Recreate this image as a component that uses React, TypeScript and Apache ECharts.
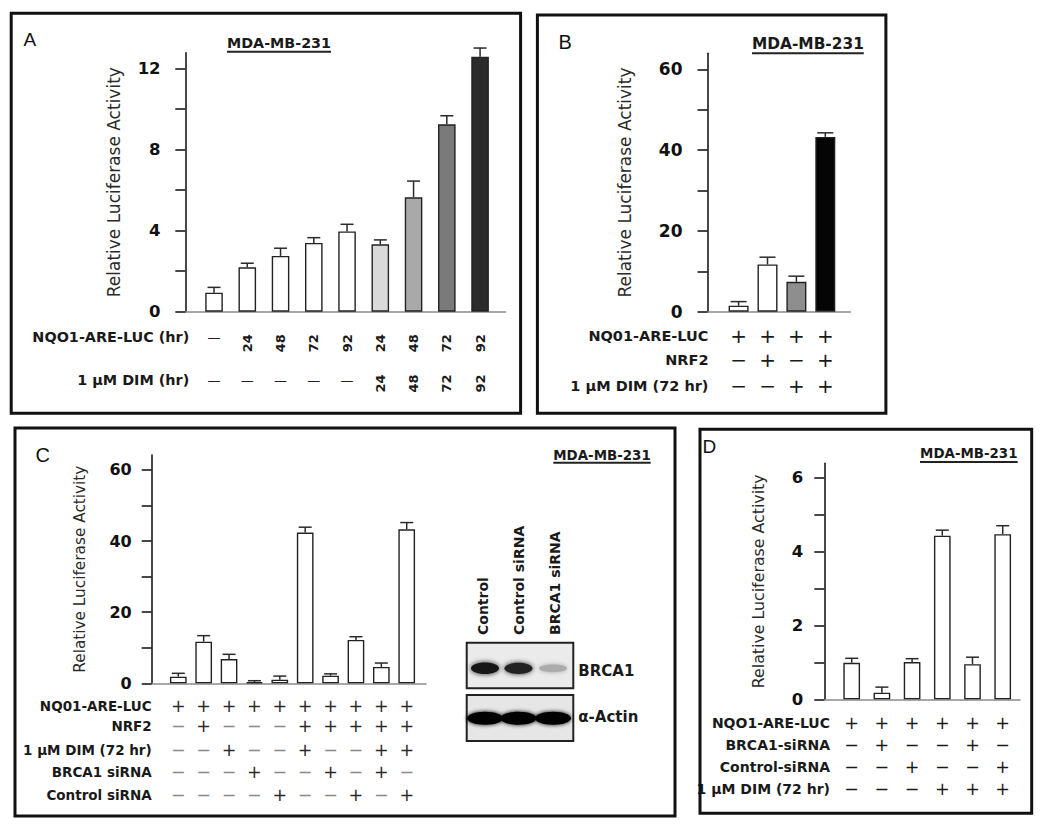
import React, { useEffect, useRef } from "react";
import * as echarts from "echarts";

// ---------------- Panel A data ----------------
const aCategories = ["LUC", "LUC 24", "LUC 48", "LUC 72", "LUC 92", "LUC+DIM 24", "LUC+DIM 48", "LUC+DIM 72", "LUC+DIM 92"];
const aValues = [0.94, 2.19, 2.75, 3.39, 3.96, 3.32, 5.64, 9.24, 12.57];
const aErrors = [0.26, 0.2, 0.38, 0.26, 0.35, 0.22, 0.8, 0.42, 0.43];
const aColors = ["#ffffff", "#ffffff", "#ffffff", "#ffffff", "#ffffff", "#d9d9d9", "#a9a9a9", "#7a7a7a", "#2b2b2b"];
const aYTicks = [0, 2, 4, 6, 8, 10, 12];
const aYLabels = [0, 4, 8, 12];
const aRowNames = ["NQO1-ARE-LUC (hr)", "1 µM DIM (hr)"];
const aRow1 = ["—", "24", "48", "72", "92", "24", "48", "72", "92"];
const aRow2 = ["—", "—", "—", "—", "—", "24", "48", "72", "92"];

// ---------------- Panel B data ----------------
const bCategories = ["LUC", "LUC+NRF2", "LUC+DIM", "LUC+NRF2+DIM"];
const bValues = [1.5, 11.7, 7.4, 43.3];
const bErrors = [1.0, 1.8, 1.4, 1.0];
const bColors = ["#ffffff", "#ffffff", "#8e8e8e", "#050505"];
const bYTicks = [0, 10, 20, 30, 40, 50, 60];
const bYLabels = [0, 20, 40, 60];
const bRowNames = ["NQ01-ARE-LUC", "NRF2", "1 µM DIM (72 hr)"];
const bRow1 = ["+", "+", "+", "+"];
const bRow2 = ["−", "+", "−", "+"];
const bRow3 = ["−", "−", "+", "+"];

// ---------------- Panel C data ----------------
const cCategories = ["c1", "c2", "c3", "c4", "c5", "c6", "c7", "c8", "c9", "c10"];
const cValues = [1.86, 11.7, 6.8, 0.28, 1.03, 42.4, 2.15, 12.2, 4.6, 43.3];
const cErrors = [0.95, 1.7, 1.35, 0.45, 1.0, 1.5, 0.5, 0.9, 1.1, 1.9];
const cColors = ["#ffffff", "#ffffff", "#ffffff", "#ffffff", "#ffffff", "#ffffff", "#ffffff", "#ffffff", "#ffffff", "#ffffff"];
const cYTicks = [0, 10, 20, 30, 40, 50, 60];
const cYLabels = [0, 20, 40, 60];
const cRowNames = ["NQ01-ARE-LUC", "NRF2", "1 µM DIM (72 hr)", "BRCA1 siRNA", "Control siRNA"];
const cRow1 = ["+", "+", "+", "+", "+", "+", "+", "+", "+", "+"];
const cRow2 = ["−", "+", "−", "−", "−", "+", "+", "+", "+", "+"];
const cRow3 = ["−", "−", "+", "−", "−", "+", "−", "−", "+", "+"];
const cRow4 = ["−", "−", "−", "+", "−", "−", "+", "−", "+", "−"];
const cRow5 = ["−", "−", "−", "−", "+", "−", "−", "+", "−", "+"];

// Western blot (panel C inset)
const blotLanes = ["Control", "Control siRNA", "BRCA1 siRNA"];
const brca1Intensity = [1, 0.95, 0.3];
const actinIntensity = [1, 1, 1];

// ---------------- Panel D data ----------------
const dCategories = ["d1", "d2", "d3", "d4", "d5", "d6"];
const dValues = [0.99, 0.18, 1.01, 4.43, 0.95, 4.47];
const dErrors = [0.12, 0.15, 0.09, 0.15, 0.19, 0.23];
const dColors = ["#ffffff", "#ffffff", "#ffffff", "#ffffff", "#ffffff", "#ffffff"];
const dYTicks = [0, 1, 2, 3, 4, 5, 6];
const dYLabels = [0, 2, 4, 6];
const dRowNames = ["NQO1-ARE-LUC", "BRCA1-siRNA", "Control-siRNA", "1 µM DIM (72 hr)"];
const dRow1 = ["+", "+", "+", "+", "+", "+"];
const dRow2 = ["−", "+", "−", "−", "+", "−"];
const dRow3 = ["−", "−", "+", "−", "−", "+"];
const dRow4 = ["−", "−", "−", "+", "+", "+"];

const Y_NAME = "Relative Luciferase Activity";
const TITLE = "MDA-MB-231";
const FONT = "'DejaVu Sans', 'Liberation Sans', Arial, sans-serif";
const LETTER_FONT = "'Liberation Sans', Arial, sans-serif";

type Row = { name: string; labels: string[]; y: number; numY?: number };
type Panel = {
  categories: string[]; values: number[]; errors: number[]; colors: string[];
  ticks: number[]; labels: number[];
  frameLeft: number; frameRight: number; top: number; bottom: number;
  bandLeft: number; bandRight: number; yMax: number; tickStep: number;
  labelMargin: number; labelSize: number; nameGap: number; nameSize: number;
  nameRight: number; rowSize: number; symSize: number; barWidth: number; capWidth: number;
  plusColor: string; minusColor: string; rows: Row[];
};

const panelA: Panel = {
  categories: aCategories, values: aValues, errors: aErrors, colors: aColors,
  ticks: aYTicks, labels: aYLabels,
  frameLeft: 185.3, frameRight: 505.4, top: 52.7, bottom: 311.7,
  bandLeft: 197.4, bandRight: 496.7, yMax: 12.77, tickStep: 2,
  labelMargin: 24.7, labelSize: 16.5, nameGap: 63, nameSize: 17,
  nameRight: 189.3, rowSize: 14.4, symSize: 13, barWidth: 17.6, capWidth: 13,
  plusColor: "#222", minusColor: "#222",
  rows: [
    { name: aRowNames[0], labels: aRow1, y: 337, numY: 343.3 },
    { name: aRowNames[1], labels: aRow2, y: 380, numY: 383.5 },
  ],
};

const panelB: Panel = {
  categories: bCategories, values: bValues, errors: bErrors, colors: bColors,
  ticks: bYTicks, labels: bYLabels,
  frameLeft: 707.5, frameRight: 850.4, top: 53.3, bottom: 311.7,
  bandLeft: 724.15, bandRight: 839.75, yMax: 64, tickStep: 10,
  labelMargin: 25, labelSize: 17, nameGap: 74, nameSize: 17,
  nameRight: 708.5, rowSize: 14.5, symSize: 20, barWidth: 20, capWidth: 16,
  plusColor: "#1a1a1a", minusColor: "#1a1a1a",
  rows: [
    { name: bRowNames[0], labels: bRow1, y: 336 },
    { name: bRowNames[1], labels: bRow2, y: 359.5 },
    { name: bRowNames[2], labels: bRow3, y: 386 },
  ],
};

const panelC: Panel = {
  categories: cCategories, values: cValues, errors: cErrors, colors: cColors,
  ticks: cYTicks, labels: cYLabels,
  frameLeft: 151.7, frameRight: 426, top: 455, bottom: 683.3,
  bandLeft: 165.6, bandRight: 419.4, yMax: 64.2, tickStep: 10,
  labelMargin: 20, labelSize: 16, nameGap: 64, nameSize: 15.3,
  nameRight: 151.7, rowSize: 13.5, symSize: 17.5, barWidth: 16.7, capWidth: 13,
  plusColor: "#2a2a2a", minusColor: "#8a8a8a",
  rows: [
    { name: cRowNames[0], labels: cRow1, y: 706 },
    { name: cRowNames[1], labels: cRow2, y: 726 },
    { name: cRowNames[2], labels: cRow3, y: 750 },
    { name: cRowNames[3], labels: cRow4, y: 771.7 },
    { name: cRowNames[4], labels: cRow5, y: 795 },
  ],
};

const panelD: Panel = {
  categories: dCategories, values: dValues, errors: dErrors, colors: dColors,
  ticks: dYTicks, labels: dYLabels,
  frameLeft: 824.3, frameRight: 1020, top: 463.3, bottom: 699.3,
  bandLeft: 836.6, bandRight: 1017.8, yMax: 6.39, tickStep: 1,
  labelMargin: 21, labelSize: 16.5, nameGap: 57.5, nameSize: 15.8,
  nameRight: 830, rowSize: 14, symSize: 17.5, barWidth: 16.7, capWidth: 13,
  plusColor: "#1a1a1a", minusColor: "#1a1a1a",
  rows: [
    { name: dRowNames[0], labels: dRow1, y: 722.7 },
    { name: dRowNames[1], labels: dRow2, y: 745 },
    { name: dRowNames[2], labels: dRow3, y: 767.3 },
    { name: dRowNames[3], labels: dRow4, y: 789.3 },
  ],
};

function addPanel(opt: any, P: Panel) {
  const h = P.bottom - P.top;
  const gF = opt.grid.length;
  opt.grid.push({ left: P.frameLeft, top: P.top, width: P.frameRight - P.frameLeft, height: h });
  const gB = opt.grid.length;
  opt.grid.push({ left: P.bandLeft, top: P.top, width: P.bandRight - P.bandLeft, height: h });

  // frame axes (baseline + y axis)
  opt.xAxis.push({
    gridIndex: gF, type: "value", min: 0, max: 1, position: "bottom",
    axisLine: { show: true, onZero: false, lineStyle: { color: "#8a8a8a", width: 1.6 } },
    axisTick: { show: false }, axisLabel: { show: false }, splitLine: { show: false },
  });
  opt.yAxis.push({
    gridIndex: gF, type: "value", min: 0, max: P.yMax, interval: P.tickStep, position: "left",
    axisLine: { show: true, onZero: false, lineStyle: { color: "#1a1a1a", width: 1.6 } },
    axisTick: { show: true, length: 10, customValues: P.ticks, lineStyle: { color: "#1a1a1a", width: 1.6 } },
    axisLabel: {
      show: true, customValues: P.labels, margin: P.labelMargin,
      fontFamily: FONT, fontWeight: "bold", fontSize: P.labelSize, color: "#111",
    },
    splitLine: { show: false },
    name: Y_NAME, nameLocation: "middle", nameGap: P.nameGap, nameRotate: 90,
    nameTextStyle: { fontFamily: FONT, fontSize: P.nameSize, color: "#2a2a2a" },
  });

  // band axes
  const xBar = opt.xAxis.length;
  opt.xAxis.push({ gridIndex: gB, type: "category", data: P.categories, show: false });
  const yBar = opt.yAxis.length;
  opt.yAxis.push({ gridIndex: gB, type: "value", min: 0, max: P.yMax, show: false });

  const hidden = { axisLine: { show: false }, axisTick: { show: false }, splitLine: { show: false } };
  const isNum = (s: string) => /\d/.test(s);
  const rich = {
    p: { fontFamily: FONT, fontSize: P.symSize, color: P.plusColor, lineHeight: P.symSize },
    m: { fontFamily: FONT, fontSize: P.symSize, color: P.minusColor, lineHeight: P.symSize },
  };

  P.rows.forEach((r) => {
    // row name
    opt.xAxis.push({
      gridIndex: gB, type: "category", data: P.categories, position: "bottom",
      offset: r.y - P.bottom, ...hidden, axisLabel: { show: false },
      name: r.name, nameLocation: "start", nameGap: P.bandLeft - P.nameRight,
      nameTextStyle: { fontFamily: FONT, fontWeight: "bold", fontSize: P.rowSize, color: "#1a1a1a" },
    });
    // +/− symbols (non-rotated)
    opt.xAxis.push({
      gridIndex: gB, type: "category", data: P.categories, position: "bottom",
      offset: r.y - P.bottom, ...hidden,
      axisLabel: {
        show: true, interval: 0, margin: 0, verticalAlign: "middle", align: "center",
        fontFamily: FONT, fontSize: P.symSize, color: P.plusColor,
        formatter: (_v: any, i: number) => {
          const s = r.labels[i];
          if (isNum(s)) return "";
          return s === "+" ? "{p|+}" : "{m|" + s + "}";
        },
        rich,
      },
    });
    if (r.numY !== undefined) {
      opt.xAxis.push({
        gridIndex: gB, type: "category", data: P.categories, position: "bottom",
        offset: r.numY - P.bottom, ...hidden,
        axisLabel: {
          show: true, interval: 0, margin: 0, rotate: 90, verticalAlign: "middle", align: "center",
          formatter: (_v: any, i: number) => (isNum(r.labels[i]) ? r.labels[i] : ""),
          fontFamily: FONT, fontWeight: "bold", fontSize: 13, color: "#1a1a1a",
        },
      });
    }
  });

  opt.series.push({
    type: "bar", xAxisIndex: xBar, yAxisIndex: yBar, barWidth: P.barWidth, silent: true, z: 2,
    data: P.values.map((v, i) => ({ value: v, itemStyle: { color: P.colors[i] } })),
    itemStyle: { borderColor: "#222", borderWidth: 1.4 },
  });
  opt.series.push({
    type: "custom", xAxisIndex: xBar, yAxisIndex: yBar, silent: true, z: 3,
    encode: { x: 0, y: 1 },
    data: P.values.map((v, i) => [i, v, P.errors[i]]),
    renderItem: (_params: any, api: any) => {
      const i = api.value(0), v = api.value(1), e = api.value(2);
      const p0 = api.coord([i, v]);
      const p1 = api.coord([i, v + e]);
      const hw = P.capWidth / 2;
      const style = { stroke: "#2a2a2a", lineWidth: 1.5 };
      return {
        type: "group",
        children: [
          { type: "line", shape: { x1: p0[0], y1: p0[1], x2: p1[0], y2: p1[1] }, style },
          { type: "line", shape: { x1: p1[0] - hw, y1: p1[1], x2: p1[0] + hw, y2: p1[1] }, style },
        ],
      };
    },
  });
}

function boxRect(x1: number, y1: number, x2: number, y2: number) {
  return { type: "rect", z: 1, shape: { x: x1, y: y1, width: x2 - x1, height: y2 - y1 }, style: { fill: "none", stroke: "#111", lineWidth: 3 } };
}
function letter(t: string, x: number, y: number, size: number) {
  return { type: "text", x, y, style: { text: t, fontFamily: LETTER_FONT, fontSize: size, fill: "#111", align: "left", verticalAlign: "middle" } };
}
function title(cx: number, cy: number, size: number, ul: number, x1: number, x2: number) {
  return [
    { type: "text", x: cx, y: cy, style: { text: TITLE, fontFamily: FONT, fontWeight: "bold", fontSize: size, fill: "#1a1a1a", align: "center", verticalAlign: "middle" } },
    { type: "line", shape: { x1, y1: ul, x2, y2: ul }, style: { stroke: "#222", lineWidth: 2 } },
  ];
}

function blotGraphics() {
  const laneX = [485, 518.5, 553];
  const labelX = [483.3, 519, 555];
  const g: any[] = [];
  blotLanes.forEach((t, i) => {
    g.push({ type: "text", x: labelX[i], y: 635, rotation: Math.PI / 2, style: { text: t, fontFamily: FONT, fontWeight: "bold", fontSize: 14, fill: "#1a1a1a", align: "left", verticalAlign: "middle" } });
  });
  g.push({ type: "rect", shape: { x: 466.7, y: 642.7, width: 106.6, height: 45.6 }, style: { fill: "#ebebeb", stroke: "#222", lineWidth: 2 } });
  brca1Intensity.forEach((k, i) => {
    const c = Math.round(235 - 210 * k);
    const col = `rgb(${c},${c},${c})`;
    g.push({ type: "ellipse", shape: { cx: laneX[i], cy: 668.3, rx: 14, ry: 3 + 2.8 * k }, style: { fill: col, shadowBlur: 5, shadowColor: col } });
  });
  g.push({ type: "rect", shape: { x: 466.7, y: 695, width: 106.6, height: 46 }, style: { fill: "#e6e6e6", stroke: "#222", lineWidth: 2 } });
  actinIntensity.forEach((k, i) => {
    const c = Math.round(235 - 230 * k);
    const col = `rgb(${c},${c},${c})`;
    g.push({ type: "ellipse", shape: { cx: laneX[i], cy: 718.3, rx: 18, ry: 6.5 }, style: { fill: col, shadowBlur: 4, shadowColor: col } });
  });
  g.push({ type: "text", x: 578.3, y: 671, style: { text: "BRCA1", fontFamily: FONT, fontWeight: "bold", fontSize: 15, fill: "#1a1a1a", align: "left", verticalAlign: "middle" } });
  g.push({ type: "text", x: 578.3, y: 716.7, style: { text: "α-Actin", fontFamily: FONT, fontWeight: "bold", fontSize: 15, fill: "#1a1a1a", align: "left", verticalAlign: "middle" } });
  return g;
}

function buildOption() {
  const opt: any = { animation: false, backgroundColor: "#ffffff", grid: [], xAxis: [], yAxis: [], series: [] };
  addPanel(opt, panelA);
  addPanel(opt, panelB);
  addPanel(opt, panelC);
  addPanel(opt, panelD);
  opt.graphic = [
    boxRect(11.2, 13.3, 520.6, 413.3),
    boxRect(537.4, 15, 885.9, 413.3),
    boxRect(15, 428, 675, 816),
    boxRect(700, 429.3, 1031.7, 813.3),
    letter("A", 23.5, 39, 19),
    letter("B", 558.5, 41.5, 20),
    letter("C", 35.5, 454.5, 20),
    letter("D", 702.5, 446, 19),
    ...title(279, 43.3, 14.3, 51.7, 227, 331),
    ...title(807.9, 44, 15.4, 53.3, 752, 863.8),
    ...title(602, 455, 13.4, 462.7, 553.3, 650.7),
    ...title(968.8, 453.8, 13.4, 462, 920, 1017.7),
    ...blotGraphics(),
  ];
  return opt;
}

export default function App() {
  const ref = useRef<HTMLDivElement>(null);
  useEffect(() => {
    if (!ref.current) return;
    const chart = echarts.init(ref.current, undefined, { renderer: "svg" });
    chart.setOption(buildOption());
    return () => chart.dispose();
  }, []);
  return <div ref={ref} style={{ position: "absolute", left: 0, top: 0, width: 1050, height: 828, background: "#fff" }} />;
}
